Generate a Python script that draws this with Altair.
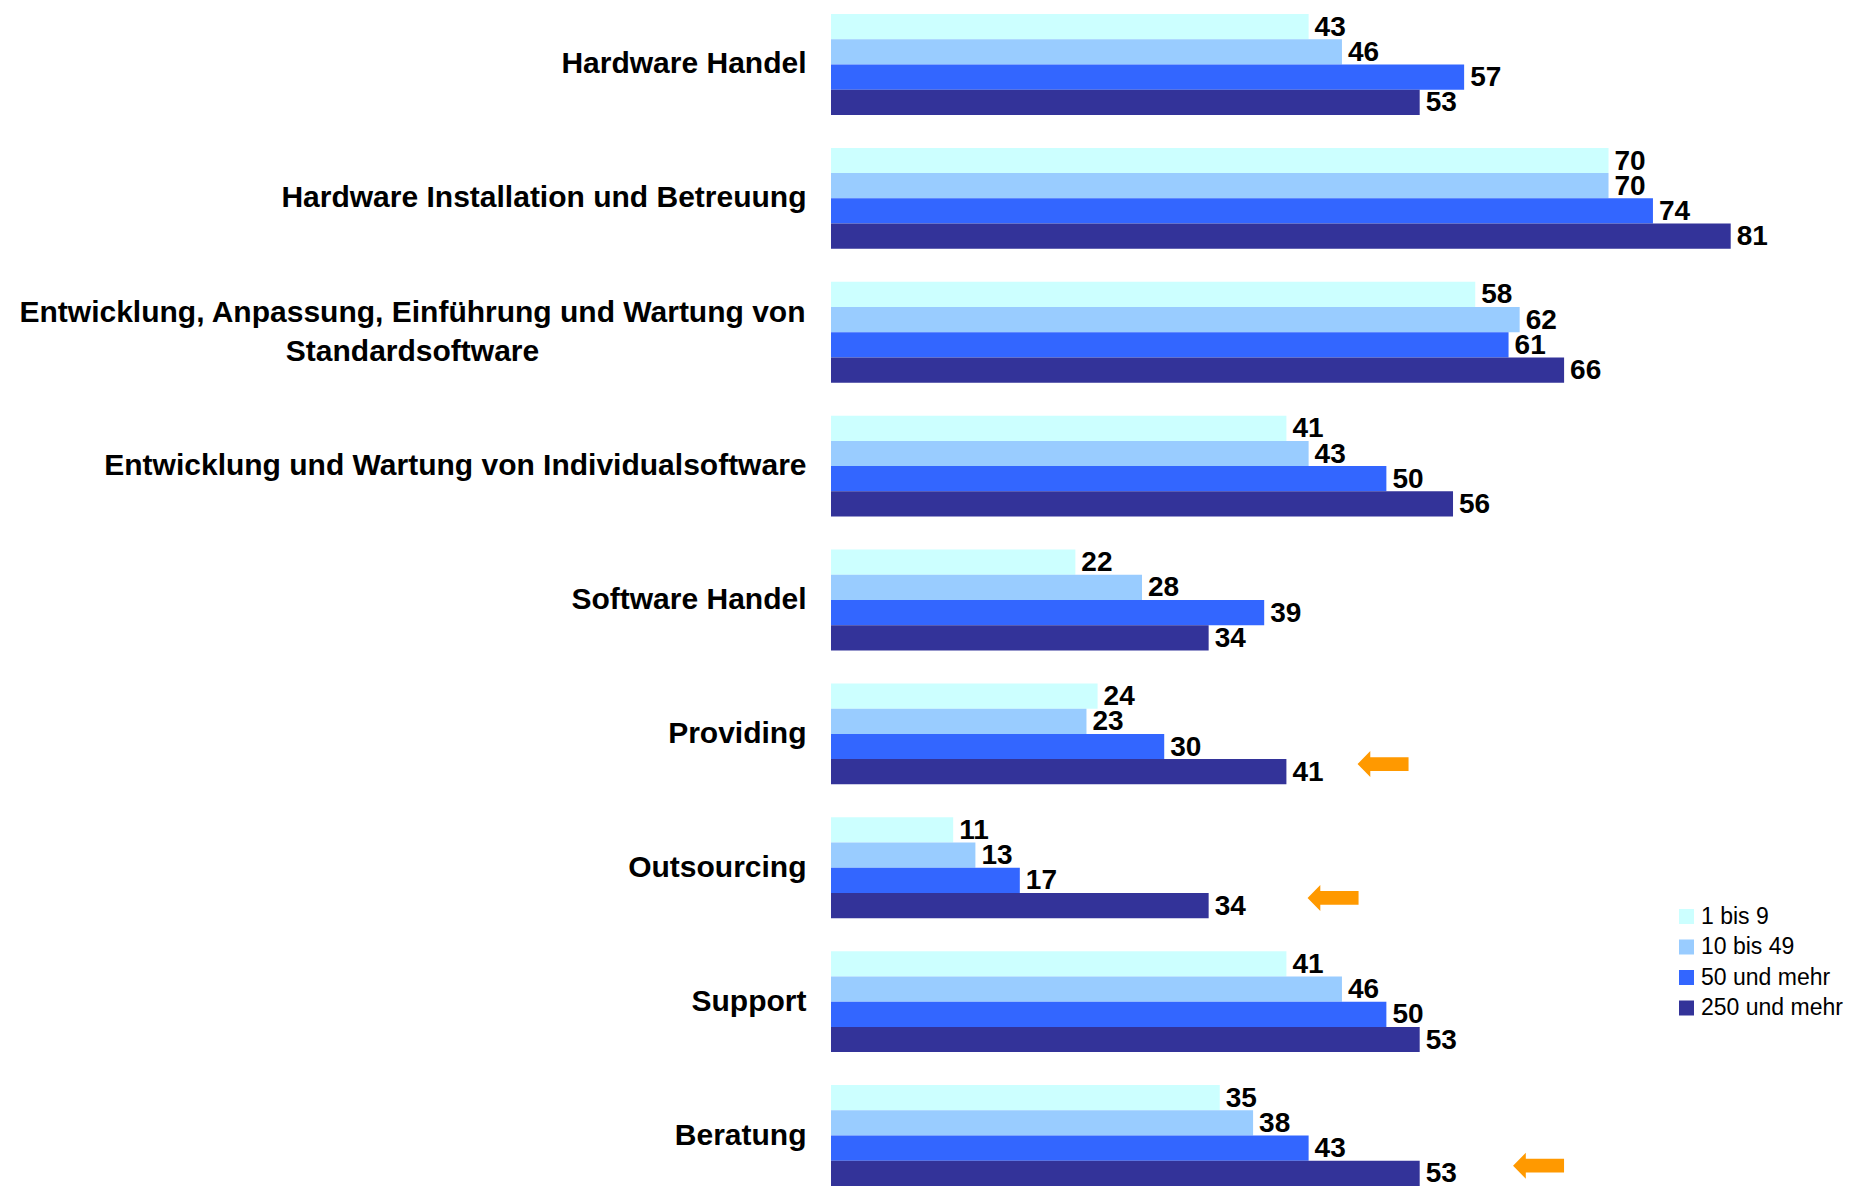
import altair as alt
import pandas as pd

categories = [
    "Hardware Handel",
    "Hardware Installation und Betreuung",
    "Entwicklung, Anpassung, Einführung und Wartung von\nStandardsoftware",
    "Entwicklung und Wartung von Individualsoftware",
    "Software Handel",
    "Providing",
    "Outsourcing",
    "Support",
    "Beratung",
]
series = ["1 bis 9", "10 bis 49", "50 und mehr", "250 und mehr"]
v_1_9 = [43, 70, 58, 41, 22, 24, 11, 41, 35]
v_10_49 = [46, 70, 62, 43, 28, 23, 13, 46, 38]
v_50 = [57, 74, 61, 50, 39, 30, 17, 50, 43]
v_250 = [53, 81, 66, 56, 34, 41, 34, 53, 53]
colors = ["#CCFFFF", "#99CCFF", "#3366FF", "#333399"]

arrow_categories = ["Providing", "Outsourcing", "Beratung"]
arrow_x = [49.7, 45.2, 63.7]

rows = []
for s, vals in zip(series, [v_1_9, v_10_49, v_50, v_250]):
    for c, v in zip(categories, vals):
        rows.append({"kat": c, "grp": s, "val": v})
df = pd.DataFrame(rows)
arrows = pd.DataFrame({"kat": arrow_categories, "grp": ["250 und mehr"] * 3, "pos": arrow_x})

multi = "length(split(datum.value, '\\n')) > 1"

y_enc = alt.Y(
    "kat:N",
    sort=categories,
    scale=alt.Scale(paddingInner=0.246, paddingOuter=0),
    axis=alt.Axis(
        title=None,
        labelExpr="split(datum.label, '\\n')",
        labelAlign={"condition": {"test": multi, "value": "center"}, "value": "right"},
        labelPadding={"condition": {"test": multi, "value": 419}, "value": 25},
        labelOffset={"condition": {"test": multi, "value": -19}, "value": 0},
        labelLineHeight=39,
        labelFont="Liberation Sans",
        labelFontWeight="bold",
        labelFontSize=30,
        labelColor="black",
        labelLimit=2000,
        domain=False,
        ticks=False,
        grid=False,
    ),
)
y_plain = alt.Y("kat:N", sort=categories)
yoff = alt.YOffset("grp:N", sort=series, scale=alt.Scale(paddingInner=0, paddingOuter=0))
x_scale = alt.Scale(domain=[0, 93], nice=False)

bars = alt.Chart(df).mark_bar().encode(
    y=y_enc,
    yOffset=yoff,
    x=alt.X("val:Q", scale=x_scale, axis=None),
    color=alt.Color(
        "grp:N",
        sort=series,
        scale=alt.Scale(domain=series, range=colors),
        legend=alt.Legend(
            title=None,
            orient="none",
            legendX=844,
            legendY=891,
            symbolType="square",
            symbolSize=225,
            symbolStrokeWidth=0,
            symbolOpacity=1,
            labelFont="Liberation Sans",
            labelFontSize=23,
            labelColor="black",
            labelOffset=3,
            rowPadding=6.5,
            padding=0,
        ),
    ),
)

labels = alt.Chart(df).mark_text(
    align="left", baseline="middle", dx=6, dy=1,
    font="Liberation Sans", fontWeight="bold", fontSize=28, color="black",
).encode(
    y=y_plain,
    yOffset=yoff,
    x=alt.X("val:Q", scale=x_scale, axis=None),
    text=alt.Text("val:Q"),
)

arrow_path = "M-1,-0.3 L-0.5,-0.81 L-0.5,-0.57 L1,-0.57 L1,-0.03 L-0.5,-0.03 L-0.5,0.21 Z"
arrow_marks = alt.Chart(arrows).mark_point(
    shape=arrow_path, size=2601, filled=True, color="#FF9900", opacity=1, strokeWidth=0,
).encode(
    y=y_plain,
    yOffset=yoff,
    x=alt.X("pos:Q", scale=x_scale, axis=None),
)

chart = alt.layer(bars, labels, arrow_marks).properties(
    width=1033,
    height=1172,
    background="white",
    autosize=alt.AutoSizeParams(type="none"),
    padding={"left": 831, "top": 14, "right": 0, "bottom": 3},
).configure_view(stroke=None).configure_axis(domain=False, ticks=False, grid=False)

chart.save("out.html", embed_options={"renderer": "svg", "actions": False})
